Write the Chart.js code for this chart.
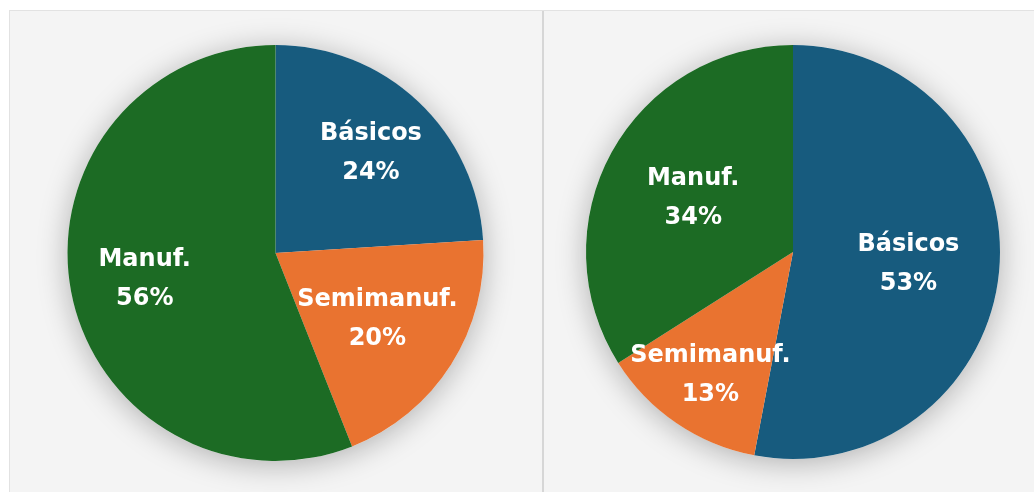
<!DOCTYPE html>
<html>
<head>
<meta charset="utf-8">
<script src="https://cdn.jsdelivr.net/npm/chart.js@4.4.1/dist/chart.umd.min.js"></script>
<style>
  html, body { margin: 0; padding: 0; background: #ffffff; }
  .wrap {
    position: absolute; left: 9px; top: 10px; width: 1025px; height: 482px;
    background: #f4f4f4; border-top: 1px solid #e2e2e2; border-left: 1px solid #e2e2e2;
    box-sizing: border-box;
  }
  .panel { position: absolute; top: 0; height: 481px; }
  #left { left: 0; width: 531px; }
  #right { left: 532px; width: 492px; border-left: 2px solid #d6d6d6; }
</style>
</head>
<body>
<div class="wrap">
  <div class="panel" id="left"><canvas id="c1" width="531" height="481"></canvas></div>
  <div class="panel" id="right"><canvas id="c2" width="490" height="481"></canvas></div>
</div>
<script>
const categories = ["Básicos", "Semimanuf.", "Manuf."];
const leftValues = [24, 20, 56];
const rightValues = [53, 13, 34];
const sliceColors = ["#175b7e", "#e97330", "#1c6b24"];

// soft shadow under the whole pie + white labels inside slices
const piePlugin = {
  id: "pieExtras",
  beforeDatasetsDraw(chart) {
    const arc = chart.getDatasetMeta(0).data[0];
    if (!arc) return;
    const ctx = chart.ctx;
    ctx.save();
    ctx.shadowColor = "rgba(0,0,0,0.28)";
    ctx.shadowBlur = 30;
    ctx.shadowOffsetY = 4;
    ctx.fillStyle = "#f4f4f4";
    ctx.beginPath();
    ctx.arc(arc.x, arc.y, arc.outerRadius, 0, Math.PI * 2);
    ctx.fill();
    ctx.restore();
  },
  afterDatasetsDraw(chart, args, opts) {
    const ctx = chart.ctx;
    const values = chart.data.datasets[0].data;
    const total = values.reduce((a, b) => a + b, 0);
    ctx.save();
    ctx.fillStyle = "#ffffff";
    ctx.font = "bold 24px 'DejaVu Sans', sans-serif";
    ctx.textAlign = "center";
    ctx.textBaseline = "middle";
    chart.getDatasetMeta(0).data.forEach((el, i) => {
      const mid = (el.startAngle + el.endAngle) / 2;
      const r = el.outerRadius * opts.radius[i];
      const x = el.x + Math.cos(mid) * r;
      const y = el.y + Math.sin(mid) * r;
      ctx.fillText(chart.data.labels[i], x, y - 18);
      ctx.fillText(Math.round(values[i] / total * 100) + "%", x, y + 21);
    });
    ctx.restore();
  }
};

function makePie(id, values, padding, labelRadius) {
  return new Chart(document.getElementById(id), {
    type: "pie",
    data: {
      labels: categories,
      datasets: [{
        data: values,
        backgroundColor: sliceColors,
        borderWidth: 0
      }]
    },
    options: {
      responsive: false,
      animation: false,
      layout: { padding },
      plugins: {
        legend: { display: false },
        tooltip: { enabled: false },
        pieExtras: { radius: labelRadius }
      }
    },
    plugins: [piePlugin]
  });
}

makePie("c1", leftValues, { top: 34, bottom: 31, left: 0, right: 0 }, [0.67, 0.58, 0.64]);
makePie("c2", rightValues, { top: 34, bottom: 33, left: 8, right: 0 }, [0.56, 0.71, 0.55]);
</script>
</body>
</html>
